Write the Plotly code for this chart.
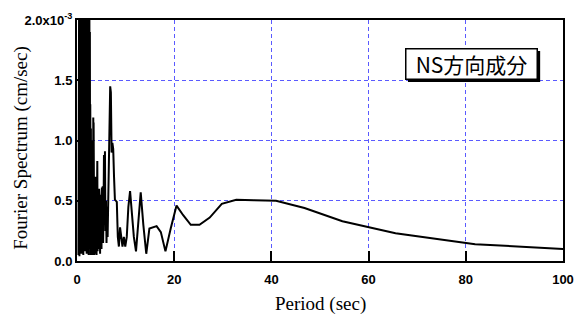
import plotly.graph_objects as go

# Period (sec) and Fourier amplitude (x1e-3 cm/sec)
dense_period = [0.30, 0.35, 0.40, 0.45, 0.50, 0.55, 0.60, 0.65, 0.70, 0.75, 0.80, 0.85, 0.90, 0.95,
                1.00, 1.05, 1.10, 1.15, 1.20, 1.25, 1.30, 1.35, 1.40, 1.45, 1.50, 1.55, 1.60, 1.65,
                1.70, 1.75, 1.80, 1.85, 1.90, 1.95, 2.00, 2.05, 2.10, 2.15, 2.20, 2.25, 2.30, 2.35,
                2.40, 2.45, 2.50, 2.55, 2.60, 2.65]
dense_value = [0.05, 2.5, 0.10, 2.5, 0.04, 2.5, 0.30, 2.5, 0.08, 2.5, 0.20, 2.5, 0.06, 2.5,
               0.35, 2.5, 0.10, 2.5, 0.25, 2.5, 0.05, 2.5, 0.40, 2.5, 0.12, 2.5, 0.30, 2.5,
               0.08, 2.5, 0.45, 2.5, 0.15, 2.5, 0.06, 2.5, 0.35, 2.5, 0.10, 2.5, 0.25, 2.5,
               0.05, 2.5, 0.30, 2.2, 0.12, 1.9]

spiky_period = [2.70, 2.73, 2.76, 2.79, 2.82, 2.86, 2.89, 2.92, 2.95, 2.98, 3.01, 3.05, 3.08, 3.12,
                3.15, 3.19, 3.23, 3.27, 3.31, 3.35, 3.38, 3.42, 3.46, 3.50, 3.55, 3.59, 3.63, 3.68,
                3.72, 3.77, 3.81, 3.86, 3.91, 3.97, 4.02, 4.07, 4.13, 4.18, 4.24, 4.30, 4.36, 4.42,
                4.48, 4.55, 4.61, 4.68, 4.75, 4.81, 4.89, 4.96, 5.04, 5.12, 5.20, 5.29, 5.37, 5.46,
                5.55, 5.65, 5.75, 5.85, 5.96, 6.07, 6.18, 6.30, 6.42, 6.55, 6.69, 6.83, 6.97]
spiky_value = [0.10, 1.30, 0.15, 0.90, 0.05, 1.10, 0.20, 0.70, 0.08, 1.00, 0.10, 0.60, 0.15, 0.90,
               0.05, 0.80, 0.25, 0.70, 0.10, 1.19, 0.20, 1.15, 0.30, 0.60, 0.05, 0.45, 0.20, 0.55,
               0.06, 0.50, 0.10, 0.70, 0.20, 0.60, 0.05, 0.80, 0.30, 0.83, 0.08, 0.55, 0.15, 0.45,
               0.10, 0.60, 0.25, 0.50, 0.06, 0.55, 0.20, 0.45, 0.10, 0.61, 0.20, 0.62, 0.15, 0.40,
               0.88, 0.30, 0.91, 0.25, 0.50, 0.15, 0.45, 0.20, 0.50, 0.90, 1.10, 1.45, 1.40]

long_period = [7.12, 7.28, 7.45, 7.62, 7.80, 7.99, 8.19, 8.40, 8.62, 8.86, 9.10, 9.36, 9.64, 9.93,
               10.24, 10.57, 10.92, 11.30, 11.70, 12.14, 12.60, 13.11, 13.65, 14.25, 14.90, 15.60,
               16.38, 17.25, 18.20, 19.28, 20.48, 21.85, 23.41, 25.21, 27.31, 29.79, 32.77, 36.41,
               40.96, 46.81, 54.61, 65.54, 81.92, 109.23]
long_value = [0.90, 0.98, 0.93, 0.70, 0.51, 0.50, 0.49, 0.20, 0.12, 0.28, 0.20, 0.12, 0.20, 0.12,
              0.20, 0.45, 0.58, 0.38, 0.20, 0.08, 0.35, 0.57, 0.30, 0.06, 0.27, 0.28,
              0.29, 0.24, 0.08, 0.27, 0.46, 0.38, 0.30, 0.30, 0.36, 0.475, 0.508, 0.505,
              0.50, 0.44, 0.33, 0.23, 0.14, 0.08]

period = dense_period + spiky_period + long_period
amplitude = dense_value + spiky_value + long_value

y_tickvals = [0.0, 0.5, 1.0, 1.5, 2.0]
y_ticktext = ["0.0", "0.5", "1.0", "1.5", "2.0x10<sup>-3</sup>"]
x_tickvals = [0, 20, 40, 60, 80, 100]

fig = go.Figure()
fig.add_trace(go.Scatter(x=period, y=amplitude, mode="lines",
                         line=dict(color="black", width=2), showlegend=False))

grid_color = "#5a5aff"
tick_font = dict(size=13, weight="bold", family="Liberation Sans", color="black")
title_font = dict(family="Liberation Serif", size=19, color="black")
fig.update_layout(
    width=581, height=322,
    margin=dict(l=77, r=18, t=20, b=61, autoexpand=False),
    paper_bgcolor="white", plot_bgcolor="white",
    font=dict(family="Liberation Sans", color="black"),
    xaxis=dict(range=[0, 100], tickvals=x_tickvals, ticks="inside", ticklen=10, tickwidth=2,
               tickcolor="black", showline=True, linecolor="black", linewidth=2, mirror=True,
               showgrid=True, gridcolor=grid_color, gridwidth=1, griddash="4px,3px",
               zeroline=False, tickfont=tick_font, automargin=False, ticklabelstandoff=5),
    yaxis=dict(range=[0, 2.0], tickvals=y_tickvals, ticktext=y_ticktext, ticks="inside",
               ticklen=6, tickwidth=2, tickcolor="black", showline=True, linecolor="black",
               linewidth=2, mirror=True, showgrid=True, gridcolor=grid_color, gridwidth=1,
               griddash="4px,3px", zeroline=False, tickfont=tick_font, automargin=False),
    shapes=[dict(type="rect", xref="paper", yref="paper", x0=0.681, x1=0.953, y0=0.743, y1=0.871,
                 fillcolor="black", line=dict(width=0), layer="above")],
    annotations=[
        dict(text="NS方向成分", xref="paper", yref="paper", x=0.8107, y=0.8195,
             showarrow=False, font=dict(family="Noto Sans CJK JP", size=21, color="black"),
             bgcolor="white", bordercolor="black", borderwidth=1.5, borderpad=1,
             width=128, height=27, xanchor="center", yanchor="middle"),
        dict(text="Period (sec)", xref="paper", yref="paper", x=0.50, y=-0.18,
             showarrow=False, font=title_font, xanchor="center", yanchor="middle"),
        dict(text="Fourier Spectrum (cm/sec)", xref="paper", yref="paper", x=-0.115, y=0.47,
             showarrow=False, font=title_font, textangle=-90, xanchor="center",
             yanchor="middle"),
    ],
)

fig.write_html("out.html", config={"displayModeBar": False},
               post_script="document.body.style.margin='0';document.body.style.overflow='hidden';")
